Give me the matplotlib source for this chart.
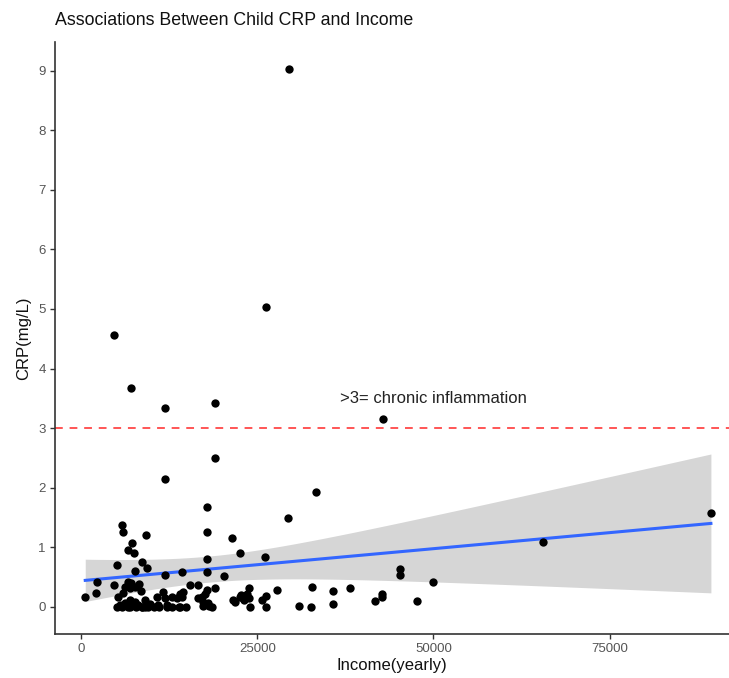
import numpy as np
import matplotlib
matplotlib.use("Agg")
import matplotlib.pyplot as plt

plt.rcParams['font.family'] = ['Liberation Sans', 'DejaVu Sans']

# income (yearly) and child CRP (mg/L)
income = [
    29500, 26150, 4650, 7030, 11850, 18950, 42850, 18950, 11850, 33300,
    17800, 29300, 17800, 21400, 22550, 26100, 17800, 65550, 89400,
    5800, 5950, 9200, 7170, 6550, 7500, 8550, 9350, 5040, 7640,
    11850, 14230, 17800, 20200, 2150, 540, 2000, 4660, 5950, 6560,
    7100, 8210, 8400, 6200, 6900, 7600, 15400, 16600, 18950, 23800, 27750,
    5230, 5470, 6180, 6890, 6650, 7600, 8070, 8550, 9020, 9490,
    10680, 10910, 11620, 11860, 12100, 12810, 13520, 13990, 14230, 14460,
    13990, 16590, 17070, 17540, 17780, 17300, 18010, 21560, 22510, 22980,
    23460, 5040, 5770, 6960, 8610, 9070, 10270, 12120, 13910, 17280,
    18080, 21850, 22700, 23040, 23830, 23960, 26150, 26280, 25600, 30940,
    32550, 32700, 35700, 35700, 38100, 41700, 42650, 42750, 45300, 45300,
    47700, 50000,
    7800, 11000, 14800, 18500, 9800, 12900,
]
crp = [
    9.02, 5.04, 4.56, 3.68, 3.34, 3.42, 3.16, 2.50, 2.14, 1.92,
    1.67, 1.49, 1.25, 1.15, 0.90, 0.83, 0.80, 1.09, 1.57,
    1.38, 1.26, 1.21, 1.07, 0.95, 0.91, 0.75, 0.65, 0.71, 0.60,
    0.54, 0.59, 0.59, 0.51, 0.41, 0.17, 0.23, 0.36, 0.24, 0.42,
    0.40, 0.39, 0.27, 0.33, 0.31, 0.33, 0.36, 0.37, 0.32, 0.32, 0.29,
    0.17, 0.03, 0.06, 0.11, 0.00, 0.08, 0.03, 0.00, 0.11, 0.00,
    0.17, 0.03, 0.25, 0.14, 0.03, 0.17, 0.14, 0.00, 0.17, 0.25,
    0.22, 0.14, 0.17, 0.22, 0.28, 0.08, 0.06, 0.11, 0.17, 0.14,
    0.22, 0.00, 0.00, 0.00, 0.00, 0.00, 0.00, 0.00, 0.00, 0.02,
    0.01, 0.08, 0.20, 0.11, 0.14, 0.00, 0.18, 0.00, 0.11, 0.01,
    0.00, 0.33, 0.26, 0.05, 0.32, 0.09, 0.17, 0.21, 0.64, 0.53,
    0.10, 0.41,
    0.00, 0.00, 0.00, 0.00, 0.05, 0.00,
]
threshold = 3
note_x, note_y = 50000, 3.5
note_text = ">3= chronic inflammation"

x = np.array(income, dtype=float)
y = np.array(crp, dtype=float)

# linear fit with 95% confidence band (like geom_smooth(method="lm"))
n = len(x)
b, a = np.polyfit(x, y, 1)
xs = np.linspace(x.min(), x.max(), 80)
fit = a + b * xs
resid = y - (a + b * x)
s = np.sqrt(np.sum(resid ** 2) / (n - 2))
se = s * np.sqrt(1 / n + (xs - x.mean()) ** 2 / np.sum((x - x.mean()) ** 2))
t = 1.98

fig = plt.figure(figsize=(7.29, 6.78), dpi=100)
ax = fig.add_axes([0.0754, 0.065, 0.9246, 0.873])

ax.fill_between(xs, fit - t * se, fit + t * se, color="#999999", alpha=0.4,
                linewidth=0, zorder=1)
ax.scatter(x, y, s=36, color="black", linewidths=0, zorder=3)
ax.plot(xs, fit, color="#3366FF", linewidth=2.2, zorder=2)
ax.axhline(threshold, color="#FF5555", linewidth=1.4, linestyle=(0, (4, 3.5)),
           zorder=2)
ax.text(note_x, note_y, note_text, ha="center", va="center", fontsize=12,
        color="#222222")

ax.set_xlim(-3760, 91970)
ax.set_ylim(-0.455, 9.48)
ax.set_xticks([0, 25000, 50000, 75000])
ax.set_yticks(range(0, 10))

for side in ["top", "right"]:
    ax.spines[side].set_visible(False)
for side in ["left", "bottom"]:
    ax.spines[side].set_color("#333333")
    ax.spines[side].set_linewidth(1.2)
ax.tick_params(colors="#333333", labelcolor="#555555", labelsize=9.5,
               length=3.5, width=1, pad=3)

ax.set_xlabel("Income(yearly)", fontsize=12, color="#111111", labelpad=2)
ax.set_ylabel("CRP(mg/L)", fontsize=12, color="#111111", labelpad=5)
ax.set_title("Associations Between Child CRP and Income", loc="left",
             fontsize=12.8, color="#111111", pad=12, x=0.0)

fig.savefig("out.png", dpi=100)
